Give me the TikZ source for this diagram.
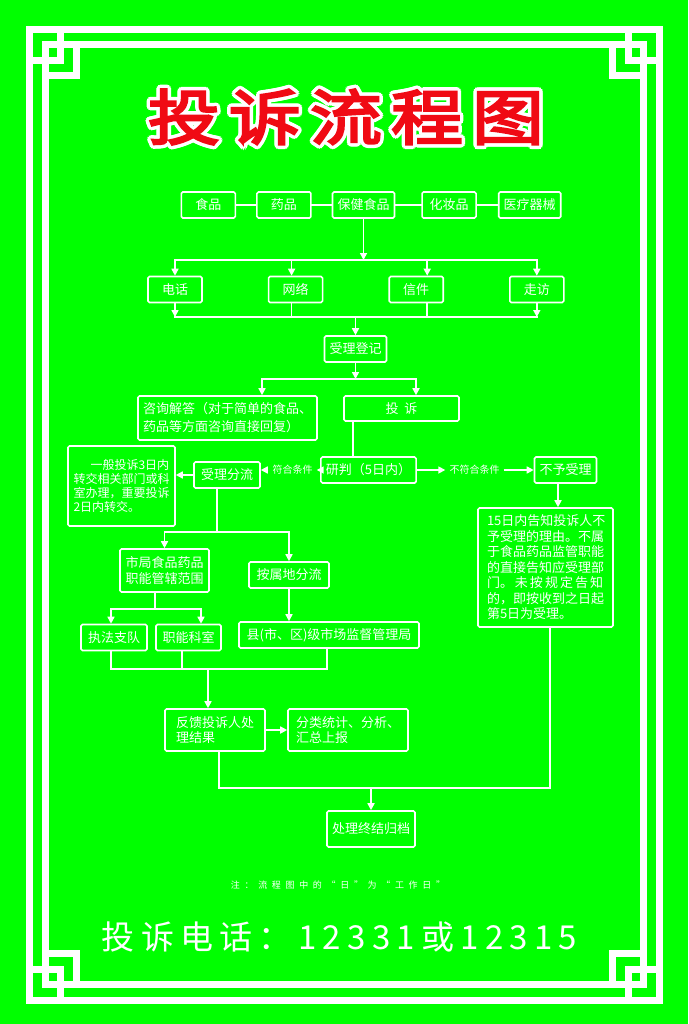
\documentclass[tikz,border=0pt]{standalone}
\usepackage{fontspec}
\setmainfont{Noto Sans CJK SC}
\newfontfamily\titlefont[FakeBold=4, FakeStretch=1.2]{Noto Sans CJK SC}
\usetikzlibrary{positioning, arrows.meta}

\definecolor{bggreen}{RGB}{0,255,0}
\definecolor{titlered}{RGB}{240,10,20}

\begin{document}
\begin{tikzpicture}[x=1pt, y=-1pt,
  box/.style = {draw=white, line width=1.6pt, rounded corners=1.5pt, text=white,
    minimum width=54pt, minimum height=26pt, inner xsep=5pt,
    font=\fontsize{13pt}{15.5pt}\selectfont},
  edge/.style = {-{Triangle[length=7pt, width=7pt]}, draw=white, line width=1.6pt},
  link/.style = {draw=white, line width=1.6pt, line cap=rect},
  cond/.style = {text=white, inner sep=4pt, font=\fontsize{10pt}{11pt}\selectfont},
  fret/.style = {draw=white, line width=7pt, line join=miter},
  headline/.style = {font=\titlefont\fontsize{60pt}{60pt}\selectfont\addfontfeature{LetterSpace=15}},
  node distance = 20pt and 20pt]

  \fill[bggreen] (0,0) rectangle (688,1024);

  % border
  \draw[fret] (29.5,29.5) rectangle (659,1000);
  \draw[fret] (45,45) rectangle (643.5,984.5);
  \foreach \cx/\cy/\dx/\dy in {29.5/29.5/1/1, 659/29.5/-1/1, 29.5/1000/1/-1, 659/1000/-1/-1} {
    \draw[fret] ({\cx+31*\dx},\cy) -- ({\cx+31*\dx},{\cy+31*\dy}) -- (\cx,{\cy+31*\dy});
    \draw[fret] ({\cx+46.5*\dx},{\cy+15.5*\dy}) -- ({\cx+46.5*\dx},{\cy+46.5*\dy}) -- ({\cx+15.5*\dx},{\cy+46.5*\dy});
  }

  % title
  \foreach \a in {0,30,...,330}
    \node[headline, text=white, xshift={3.5pt*cos(\a)}, yshift={3.5pt*sin(\a)}] (halo\a) at (346,117) {投诉流程图};
  \node[headline, text=titlered] (bt) at (346,117) {投诉流程图};

  % sources
  \node[box] (bj) at (363.5,205) {保健食品};
  \node[box, left = of bj] (yaop) {药品};
  \node[box, left = of yaop] (shp) {食品};
  \node[box, right = 26pt of bj] (hzp) {化妆品};
  \node[box, right = 21pt of hzp] (ylqx) {医疗器械};
  \draw[link] (shp) -- (yaop);
  \draw[link] (yaop) -- (bj);
  \draw[link] (bj) -- (hzp);
  \draw[link] (hzp) -- (ylqx);

  % channels
  \node[box] (dh) at (175,289.5) {电话};
  \node[box, right = 65pt of dh] (wl) {网络};
  \node[box, right = 65pt of wl] (xinj) {信件};
  \node[box, right = 65pt of xinj] (zf) {走访};

  \coordinate (in1) at (363.5,260);
  \coordinate (in2) at (355.5,317);
  \draw[edge] (bj) -- (in1);
  \draw[link] (dh |- in1) -- (zf |- in1);
  \draw[edge] (dh |- in1) -- (dh);
  \draw[edge] ([xshift=-4pt]wl.north |- in1) -- ([xshift=-4pt]wl.north);
  \draw[edge] ([xshift=11pt]xinj.north |- in1) -- ([xshift=11pt]xinj.north);
  \draw[edge] (zf |- in1) -- (zf);

  \draw[edge] (dh) -- (dh |- in2);
  \draw[link] ([xshift=-4pt]wl.south) -- ([xshift=-4pt]wl.south |- in2);
  \draw[link] ([xshift=11pt]xinj.south) -- ([xshift=11pt]xinj.south |- in2);
  \draw[edge] (zf) -- (zf |- in2);
  \draw[link] (dh |- in2) -- (zf |- in2);

  % registration
  \node[box] (sldj) at (355.5,349) {受理登记};
  \draw[edge] (in2) -- (sldj);

  \coordinate (in3) at (262,379);
  \coordinate (in4) at (416,379);
  \node[box, align=left, minimum width=179pt, minimum height=44pt,
    font=\fontsize{13pt}{18pt}\selectfont] (zx) at (227.5,418)
    {咨询解答（对于简单的食品、\\药品等方面咨询直接回复）};
  \node[box, minimum width=115pt, minimum height=25pt] (ts) at (401.5,408.5) {投\hspace{6pt}诉};
  \draw[edge] (sldj) -- (sldj |- in3);
  \draw[link] (in3) -- (in4);
  \draw[edge] (in3) -- (in3 |- zx.north);
  \draw[edge] (in4) -- (in4 |- ts.north);

  % judgement
  \node[box, minimum width=91pt] (yanp) at (368.5,470) {研判（5日内）};
  \draw[link] ([xshift=-48.5pt]ts.south) -- ([xshift=-48.5pt]ts.south |- yanp.north);

  \node[cond] (fh) at (292.5,470) {符合条件};
  \node[cond] (bfh) at (474.5,470) {不符合条件};
  \node[box, minimum width=66pt] (slfl) at (227,475) {受理分流};
  \node[box] (byl) at (565.5,470) {不予受理};
  \draw[edge] (yanp) -- (fh);
  \draw[edge] (fh) -- (fh -| slfl.east);
  \draw[edge] (yanp) -- (bfh);
  \draw[edge] (bfh) -- (byl);

  \node[box, align=left, minimum width=107pt, minimum height=80pt,
    font=\fontsize{12pt}{14pt}\selectfont] (zj) at (121.5,486)
    {\hspace*{17pt}一般投诉3日内\\转交相关部门或科\\室办理，重要投诉\\2日内转交。};
  \draw[edge] (slfl) -- (slfl -| zj.east);

  % dispatch
  \coordinate (in5) at (164.5,532);
  \coordinate (in6) at (289,532);
  \draw[link] ([xshift=-10pt]slfl.south) -- ([xshift=-10pt]slfl.south |- in5);
  \draw[link] (in5) -- (in6);
  \node[box, align=center, minimum width=89pt, minimum height=43pt] (sj) at (164.5,570.5)
    {市局食品药品\\职能管辖范围};
  \node[box, minimum width=80pt] (asd) at (289,575) {按属地分流};
  \draw[edge] (in5) -- (sj);
  \draw[edge] (in6) -- (asd);

  \coordinate (in7) at (111,609);
  \coordinate (in8) at (201,609);
  \node[box, minimum width=66pt] (zfzd) at (114,637.5) {执法支队};
  \node[box, minimum width=65pt] (znks) at (188.5,637.5) {职能科室};
  \node[box, minimum width=180pt] (xianj) at (329,635) {县(市、区)级市场监督管理局};
  \draw[link] ([xshift=-9.5pt]sj.south) -- ([xshift=-9.5pt]sj.south |- in7);
  \draw[link] (in7) -- (in8);
  \draw[edge] (in7) -- (in7 |- zfzd.north);
  \draw[edge] (in8) -- (in8 |- znks.north);
  \draw[edge] (asd) -- (asd |- xianj.north);

  % feedback
  \coordinate (in9) at (111,669);
  \coordinate (in10) at (327,669);
  \coordinate (in11) at (208,669);
  \draw[link] (in9 |- zfzd.south) -- (in9);
  \draw[link] ([xshift=-6.5pt]znks.south) -- ([xshift=-6.5pt]znks.south |- in9);
  \draw[link] ([xshift=-2pt]xianj.south) -- ([xshift=-2pt]xianj.south |- in9);
  \draw[link] (in9) -- (in10);
  \node[box, align=left, minimum width=100pt, minimum height=42pt] (fk) at (215,730)
    {反馈投诉人处\\理结果};
  \node[box, align=left, minimum width=120pt, minimum height=42pt] (fl) at (348,730)
    {分类统计、分析、\\汇总上报};
  \draw[edge] (in11) -- (in11 |- fk.north);
  \draw[edge] (fk) -- (fl);

  % not accepted
  \node[box, align=left, text width=117pt, minimum height=119pt, inner xsep=9pt] (gz) at (545.5,567.5)
    {15日内告知投诉人不\\予受理的理由。不属\\于食品药品监管职能\\的直接告知应受理部\\\makebox[116pt][s]{门。\hfill{}未\hfill{}按\hfill{}规\hfill{}定\hfill{}告\hfill{}知}\\的，即按收到之日起\\第5日为受理。};
  \draw[edge] ([xshift=-7.5pt]byl.south) -- ([xshift=-7.5pt]byl.south |- gz.north);

  % closing
  \coordinate (in12) at (219,788);
  \coordinate (in13) at (550,788);
  \coordinate (in14) at (371,788);
  \draw[link] ([xshift=4pt]fk.south) -- ([xshift=4pt]fk.south |- in12);
  \draw[link] ([xshift=4.5pt]gz.south) -- ([xshift=4.5pt]gz.south |- in13);
  \draw[link] (in12) -- (in13);
  \node[box, minimum width=88pt, minimum height=36pt] (cl) at (371,829) {处理终结归档};
  \draw[edge] (in14) -- (cl);

  % notes
  \node[text=white, font=\fontsize{9pt}{10pt}\selectfont\addfontfeature{LetterSpace=52}] (zhu) at (338,885)
    {注：流程图中的“日”为“工作日”};
  \node[text=white, font=\fontsize{33pt}{36pt}\selectfont\addfontfeature{LetterSpace=19}] (dhhm) at (339.5,937)
    {投诉电话：12331或12315};
\end{tikzpicture}
\end{document}
